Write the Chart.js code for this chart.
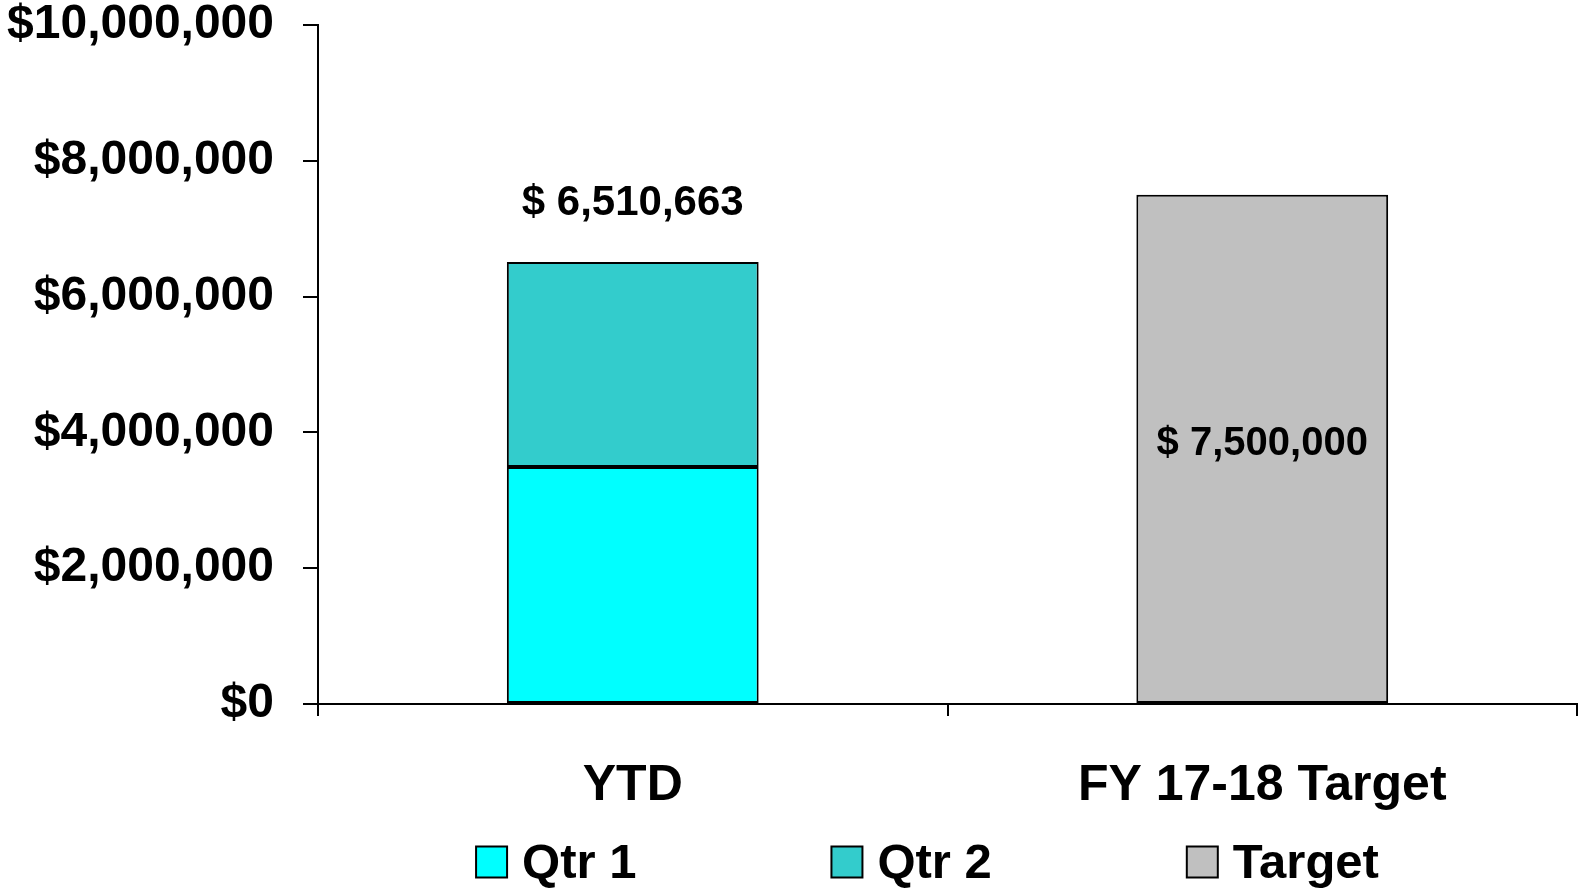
<!DOCTYPE html>
<html>
<head>
<meta charset="utf-8">
<script src="https://cdn.jsdelivr.net/npm/chart.js@4.4.0/dist/chart.umd.min.js"></script>
<style>
    html, body { margin: 0; padding: 0; background: #fff; }
    #wrap { width: 1579px; height: 889px; }
</style>
</head>
<body>
<div id="wrap"><canvas id="chart" width="1579" height="889"></canvas></div>
<script>
const categories = ['YTD', 'FY 17-18 Target'];
const qtr1 = [3490000, null];
const qtr2 = [3020663, null];
const target = [null, 7500000];
const yTicks = [0, 2000000, 4000000, 6000000, 8000000, 10000000];

const FONT = '"Liberation Sans", Arial, sans-serif';
const money = v => '$' + Number(v).toLocaleString('en-US');

// value labels: stack total above YTD, target inside its bar
const valueLabels = {
    id: 'valueLabels',
    afterDatasetsDraw(chart) {
        const ctx = chart.ctx;
        ctx.save();
        ctx.fillStyle = '#000';
        ctx.textAlign = 'center';
        ctx.textBaseline = 'middle';

        const top = chart.getDatasetMeta(1).data[0];
        const total = qtr1[0] + qtr2[0];
        ctx.font = 'bold 42px ' + FONT;
        ctx.fillText('$ ' + total.toLocaleString('en-US'), top.x, top.y - 59);

        const t = chart.getDatasetMeta(2).data[1];
        ctx.font = 'bold 40px ' + FONT;
        ctx.fillText('$ ' + target[1].toLocaleString('en-US'), t.x, (t.y + t.base) / 2 - 5);
        ctx.restore();
    }
};

// legend drawn by hand so the wide spacing fits in one row
const bottomLegend = {
    id: 'bottomLegend',
    afterDraw(chart) {
        const ctx = chart.ctx;
        const sets = chart.data.datasets;
        const box = 31, gap = 15, space = 195;
        ctx.save();
        ctx.font = 'bold 49px ' + FONT;
        const widths = sets.map(d => box + gap + ctx.measureText(d.label).width);
        const total = widths.reduce((a, b) => a + b, 0) + space * (sets.length - 1);
        let x = (chart.chartArea.left + chart.chartArea.right) / 2 - total / 2 - 20;
        const y = 862;
        sets.forEach((d, i) => {
            ctx.fillStyle = d.backgroundColor;
            ctx.fillRect(x, y - box / 2, box, box);
            ctx.lineWidth = 2;
            ctx.strokeStyle = '#000';
            ctx.strokeRect(x, y - box / 2, box, box);
            ctx.fillStyle = '#000';
            ctx.textAlign = 'left';
            ctx.textBaseline = 'middle';
            ctx.fillText(d.label, x + box + gap, y + 2);
            x += widths[i] + space;
        });
        ctx.restore();
    }
};

new Chart(document.getElementById('chart'), {
    type: 'bar',
    data: {
        labels: categories,
        datasets: [
            { label: 'Qtr 1', data: qtr1, backgroundColor: '#00FFFF' },
            { label: 'Qtr 2', data: qtr2, backgroundColor: '#33CCCC' },
            { label: 'Target', data: target, backgroundColor: '#C0C0C0' }
        ].map(d => Object.assign(d, {
            borderColor: '#000',
            borderWidth: 2,
            borderSkipped: false,
            categoryPercentage: 1,
            barPercentage: 0.4
        }))
    },
    options: {
        responsive: false,
        animation: false,
        layout: { padding: { top: 0, right: 2, bottom: 75, left: 0 } },
        plugins: { legend: { display: false }, tooltip: { enabled: false } },
        scales: {
            x: {
                stacked: true,
                grid: { display: true, drawOnChartArea: false, drawTicks: true, tickLength: 12, color: '#000', lineWidth: 2, offset: true },
                border: { display: true, color: '#000', width: 2 },
                ticks: { color: '#000', padding: 40, font: { family: FONT, size: 50, weight: 'bold' } },
                afterFit: s => { s.height = 110; }
            },
            y: {
                stacked: true,
                min: 0,
                max: 10000000,
                afterBuildTicks: s => { s.ticks = yTicks.map(v => ({ value: v })); },
                grid: { display: true, drawOnChartArea: false, drawTicks: true, tickLength: 15, color: '#000', lineWidth: 2 },
                border: { display: true, color: '#000', width: 2 },
                ticks: { color: '#000', padding: 29, callback: v => money(v), font: { family: FONT, size: 48, weight: 'bold' } },
                afterFit: s => { s.width = 318; s.paddingTop = 25; s.paddingBottom = 0; }
            }
        }
    },
    plugins: [valueLabels, bottomLegend]
});
</script>
</body>
</html>
